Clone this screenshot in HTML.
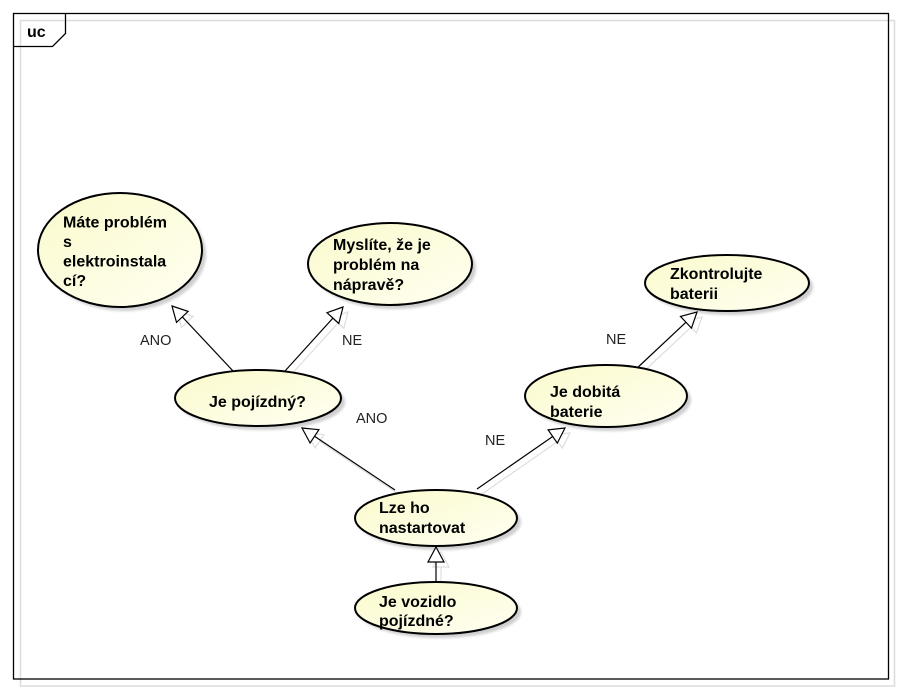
<!DOCTYPE html>
<html>
<head>
<meta charset="utf-8">
<style>
  html, body { margin: 0; padding: 0; background: #fff; }
  svg { display: block; }
  .t { font-family: "Liberation Sans", Arial, sans-serif; font-weight: bold; font-size: 16px; fill: #000; }
  .l { font-family: "Liberation Sans", Arial, sans-serif; font-size: 14.5px; fill: #222; }
</style>
</head>
<body>
<svg width="901" height="693" viewBox="0 0 901 693" xmlns="http://www.w3.org/2000/svg">
  <defs>
    <linearGradient id="g" x1="0" y1="0" x2="1" y2="1">
      <stop offset="0" stop-color="#fafacc"/>
      <stop offset="1" stop-color="#fffff2"/>
    </linearGradient>
    <filter id="b" x="-10%" y="-20%" width="130%" height="150%">
      <feGaussianBlur stdDeviation="1.2"/>
    </filter>
  </defs>

  <!-- frame -->
  <rect x="20.5" y="20.5" width="874" height="665.5" fill="none" stroke="#dcdcdc" stroke-width="1.5"/>
  <rect x="13.5" y="13.5" width="875" height="665.5" fill="none" stroke="#000" stroke-width="1.3"/>
  <path d="M13.5,46.5 H52.5 L65.5,33.5 V13.5" fill="none" stroke="#000" stroke-width="1.3"/>
  <text x="27" y="37" class="t">uc</text>

  <!-- connector shadows -->
  <g stroke="#dedede" stroke-width="1.2" fill="none" transform="translate(5,5)">
    <line x1="233" y1="371" x2="182.3" y2="316.9"/>
    <polygon points="172,306 188.1,311.4 176.5,322.4"/>
    <line x1="285" y1="371" x2="332.9" y2="318.1"/>
    <polygon points="343,307 338.8,323.5 327,312.7"/>
    <line x1="395" y1="490" x2="314.5" y2="436.3"/>
    <polygon points="302,428 318.9,429.7 310.1,443"/>
    <line x1="477" y1="489" x2="552.7" y2="436.5"/>
    <polygon points="565,428 557.3,443.1 548.1,429.9"/>
    <line x1="635" y1="370" x2="686" y2="322.2"/>
    <polygon points="697,312 691.5,328.1 680.5,316.4"/>
    <line x1="436" y1="582" x2="436" y2="562"/>
    <polygon points="436,547 428,562 444,562"/>
  </g>

  <!-- ellipse shadows -->
  <g fill="#cfcfcf" filter="url(#b)">
    <ellipse cx="124" cy="254" rx="82" ry="57"/>
    <ellipse cx="262" cy="402" rx="83" ry="28"/>
    <ellipse cx="394" cy="268" rx="82" ry="41"/>
    <ellipse cx="731" cy="287" rx="82" ry="28"/>
    <ellipse cx="610" cy="400" rx="81" ry="31"/>
    <ellipse cx="440" cy="522" rx="81" ry="28"/>
    <ellipse cx="440" cy="612" rx="81" ry="26"/>
  </g>

  <!-- connectors -->
  <g stroke="#000" stroke-width="1.2" fill="#fff">
    <line x1="233" y1="371" x2="182.3" y2="316.9"/>
    <polygon points="172,306 188.1,311.4 176.5,322.4"/>
    <line x1="285" y1="371" x2="332.9" y2="318.1"/>
    <polygon points="343,307 338.8,323.5 327,312.7"/>
    <line x1="395" y1="490" x2="314.5" y2="436.3"/>
    <polygon points="302,428 318.9,429.7 310.1,443"/>
    <line x1="477" y1="489" x2="552.7" y2="436.5"/>
    <polygon points="565,428 557.3,443.1 548.1,429.9"/>
    <line x1="635" y1="370" x2="686" y2="322.2"/>
    <polygon points="697,312 691.5,328.1 680.5,316.4"/>
    <line x1="436" y1="582" x2="436" y2="562"/>
    <polygon points="436,547 428,562 444,562"/>
  </g>

  <!-- ellipses -->
  <g fill="url(#g)" stroke="#000" stroke-width="2">
    <ellipse cx="120" cy="250" rx="82" ry="57"/>
    <ellipse cx="258" cy="398" rx="83" ry="28"/>
    <ellipse cx="390" cy="264" rx="82" ry="41"/>
    <ellipse cx="727" cy="283" rx="82" ry="28"/>
    <ellipse cx="606" cy="396" rx="81" ry="31"/>
    <ellipse cx="436" cy="518" rx="81" ry="28"/>
    <ellipse cx="436" cy="608" rx="81" ry="26"/>
  </g>

  <!-- ellipse texts -->
  <text class="t" x="63" y="227.5">Máte problém</text>
  <text class="t" x="63" y="247">s</text>
  <text class="t" x="63" y="266.5">elektroinstala</text>
  <text class="t" x="63" y="286">cí?</text>

  <text class="t" x="209" y="407">Je pojízdný?</text>

  <text class="t" x="333" y="250">Myslíte, že je</text>
  <text class="t" x="333" y="270">problém na</text>
  <text class="t" x="333" y="290">nápravě?</text>

  <text class="t" x="670" y="279">Zkontrolujte</text>
  <text class="t" x="670" y="299">baterii</text>

  <text class="t" x="550" y="397">Je dobitá</text>
  <text class="t" x="550" y="417">baterie</text>

  <text class="t" x="379" y="513">Lze ho</text>
  <text class="t" x="379" y="533">nastartovat</text>

  <text class="t" x="379" y="607">Je vozidlo</text>
  <text class="t" x="379" y="626">pojízdné?</text>

  <!-- connector labels -->
  <text class="l" x="140" y="345">ANO</text>
  <text class="l" x="342" y="345">NE</text>
  <text class="l" x="356" y="423">ANO</text>
  <text class="l" x="485" y="445">NE</text>
  <text class="l" x="606" y="344">NE</text>
</svg>
</body>
</html>
